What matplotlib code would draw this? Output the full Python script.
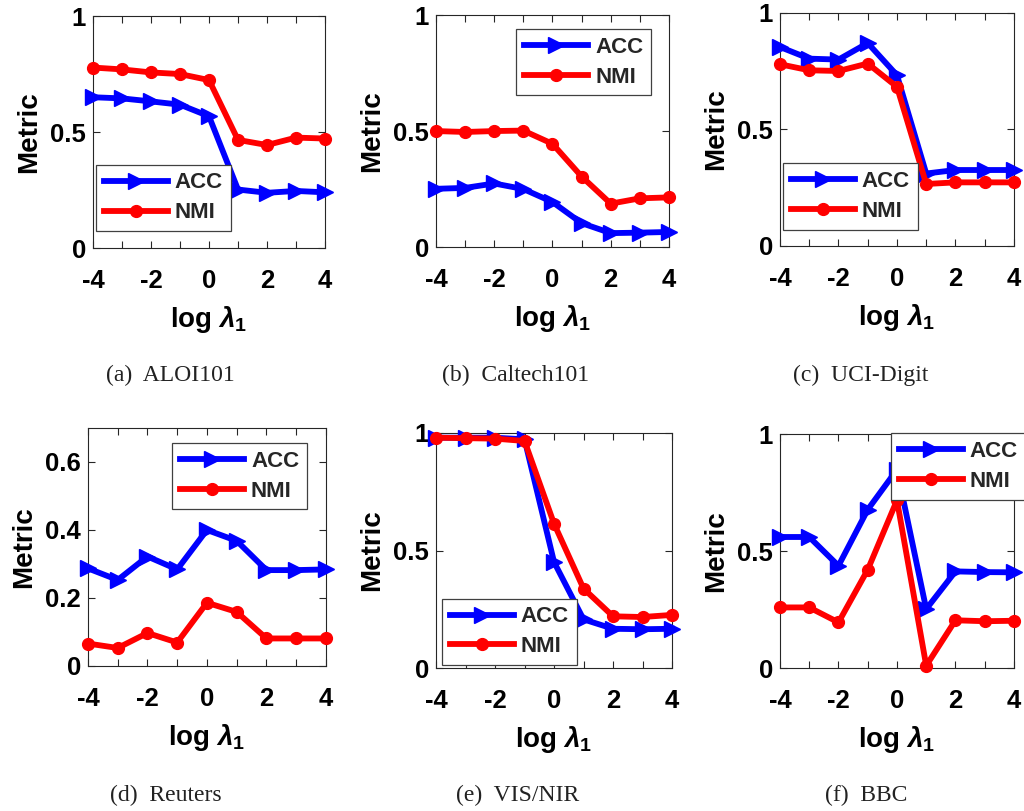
import matplotlib
matplotlib.use("Agg")
import matplotlib.pyplot as plt
from matplotlib.ticker import MultipleLocator

plt.rcParams['font.family'] = 'Liberation Sans'
plt.rcParams['font.weight'] = 'bold'
plt.rcParams['axes.unicode_minus'] = False
plt.rcParams['mathtext.fontset'] = 'custom'
plt.rcParams['mathtext.rm'] = 'Liberation Sans:bold'
plt.rcParams['mathtext.it'] = 'Liberation Sans:italic:bold'

log_lambda = [-4, -3, -2, -1, 0, 1, 2, 3, 4]

# (a) ALOI101
aloi_acc = [0.65, 0.645, 0.632, 0.618, 0.568, 0.252, 0.238, 0.246, 0.240]
aloi_nmi = [0.778, 0.770, 0.757, 0.750, 0.724, 0.466, 0.444, 0.476, 0.472]
# (b) Caltech101
cal_acc = [0.251, 0.255, 0.274, 0.250, 0.194, 0.103, 0.060, 0.062, 0.065]
cal_nmi = [0.500, 0.496, 0.500, 0.502, 0.445, 0.304, 0.187, 0.210, 0.214]
# (c) UCI-Digit
uci_acc = [0.854, 0.804, 0.800, 0.871, 0.733, 0.311, 0.326, 0.326, 0.326]
uci_nmi = [0.780, 0.754, 0.751, 0.783, 0.683, 0.266, 0.273, 0.273, 0.273]
# (d) Reuters
reu_acc = [0.287, 0.253, 0.322, 0.284, 0.400, 0.368, 0.282, 0.282, 0.284]
reu_nmi = [0.066, 0.053, 0.097, 0.069, 0.186, 0.159, 0.081, 0.081, 0.081]
# (e) VIS/NIR
vis_acc = [0.980, 0.980, 0.980, 0.973, 0.451, 0.207, 0.167, 0.165, 0.167]
vis_nmi = [0.980, 0.978, 0.976, 0.966, 0.614, 0.338, 0.220, 0.217, 0.226]
# (f) BBC
bbc_acc = [0.560, 0.560, 0.437, 0.677, 0.848, 0.252, 0.413, 0.410, 0.409]
bbc_nmi = [0.259, 0.259, 0.195, 0.420, 0.717, 0.010, 0.204, 0.200, 0.202]

captions = ['(a)  ALOI101', '(b)  Caltech101', '(c)  UCI-Digit',
            '(d)  Reuters', '(e)  VIS/NIR', '(f)  BBC']

panels = [
    # acc, nmi, axes rect, ylim top, y ticks, legend loc, legend anchor, caption xy (px)
    (aloi_acc, aloi_nmi, [0.0908, 0.6942, 0.2266, 0.2860], 1.0, [0, 0.5, 1], 'lower left', (0.013, 0.073), (170, 375)),
    (cal_acc, cal_nmi, [0.4258, 0.6954, 0.2275, 0.2860], 1.0, [0, 0.5, 1], 'upper right', (0.923, 0.94), (516, 375)),
    (uci_acc, uci_nmi, [0.7617, 0.6967, 0.2285, 0.2873], 1.0, [0, 0.5, 1], 'lower left', (0.013, 0.069), (861, 375)),
    (reu_acc, reu_nmi, [0.0859, 0.1788, 0.2324, 0.2935], 0.7, [0, 0.2, 0.4, 0.6], 'upper right', (0.92, 0.937), (166, 795)),
    (vis_acc, vis_nmi, [0.4258, 0.1763, 0.2305, 0.2898], 1.0, [0, 0.5, 1], 'lower left', (0.025, 0.013), (518, 795)),
    (bbc_acc, bbc_nmi, [0.7617, 0.1763, 0.2285, 0.2885], 1.0, [0, 0.5, 1], 'upper left', (0.474, 1.004), (866, 795)),
]

W, H = 1024, 811
fig = plt.figure(figsize=(W / 100, H / 100), dpi=100)

for (acc, nmi, rect, ytop, yticks, lloc, lanchor, cxy), cap in zip(panels, captions):
    ax = fig.add_axes(rect)
    ax.plot(log_lambda, acc, color='#0000ff', lw=4.2, marker='>', ms=12,
            label='ACC', clip_on=False, zorder=3)
    ax.plot(log_lambda, nmi, color='#ff0000', lw=4.2, marker='o', ms=8.5,
            label='NMI', clip_on=False, zorder=4)
    ax.set_xlim(-4, 4)
    ax.set_ylim(0, ytop)
    ax.xaxis.set_major_locator(MultipleLocator(2))
    ax.xaxis.set_minor_locator(MultipleLocator(1))
    ax.set_yticks(yticks)
    ax.set_yticklabels([('%g' % v) for v in yticks])
    ax.tick_params(which='both', direction='in', top=True, right=True,
                   color='#262626', width=0.8, length=5)
    ax.tick_params(which='major', labelsize=18.5)
    ax.tick_params(axis='x', pad=15)
    ax.tick_params(axis='y', pad=5)
    for s in ax.spines.values():
        s.set_color('#262626')
        s.set_linewidth(0.8)
    ax.set_ylabel('Metric', fontsize=20, fontweight='bold', labelpad=6)
    ax.set_xlabel(r'log $\lambda_1$', fontsize=20, fontweight='bold', labelpad=8)
    leg = ax.legend(loc=lloc, bbox_to_anchor=lanchor, fontsize=16,
                    handlelength=2.9, fancybox=False, framealpha=1,
                    edgecolor='#404040', borderpad=0.35, labelspacing=0.4,
                    handletextpad=0.3, borderaxespad=0.0)
    leg.get_frame().set_linewidth(0.9)
    for t in leg.get_texts():
        t.set_color('#262626')
    leg.set_zorder(10)
    fig.text(cxy[0] / W, 1 - cxy[1] / H, cap, ha='center', va='center',
             fontsize=17, family='Liberation Serif', fontweight='normal',
             color='#222222')

fig.savefig('out.png', dpi=100)
